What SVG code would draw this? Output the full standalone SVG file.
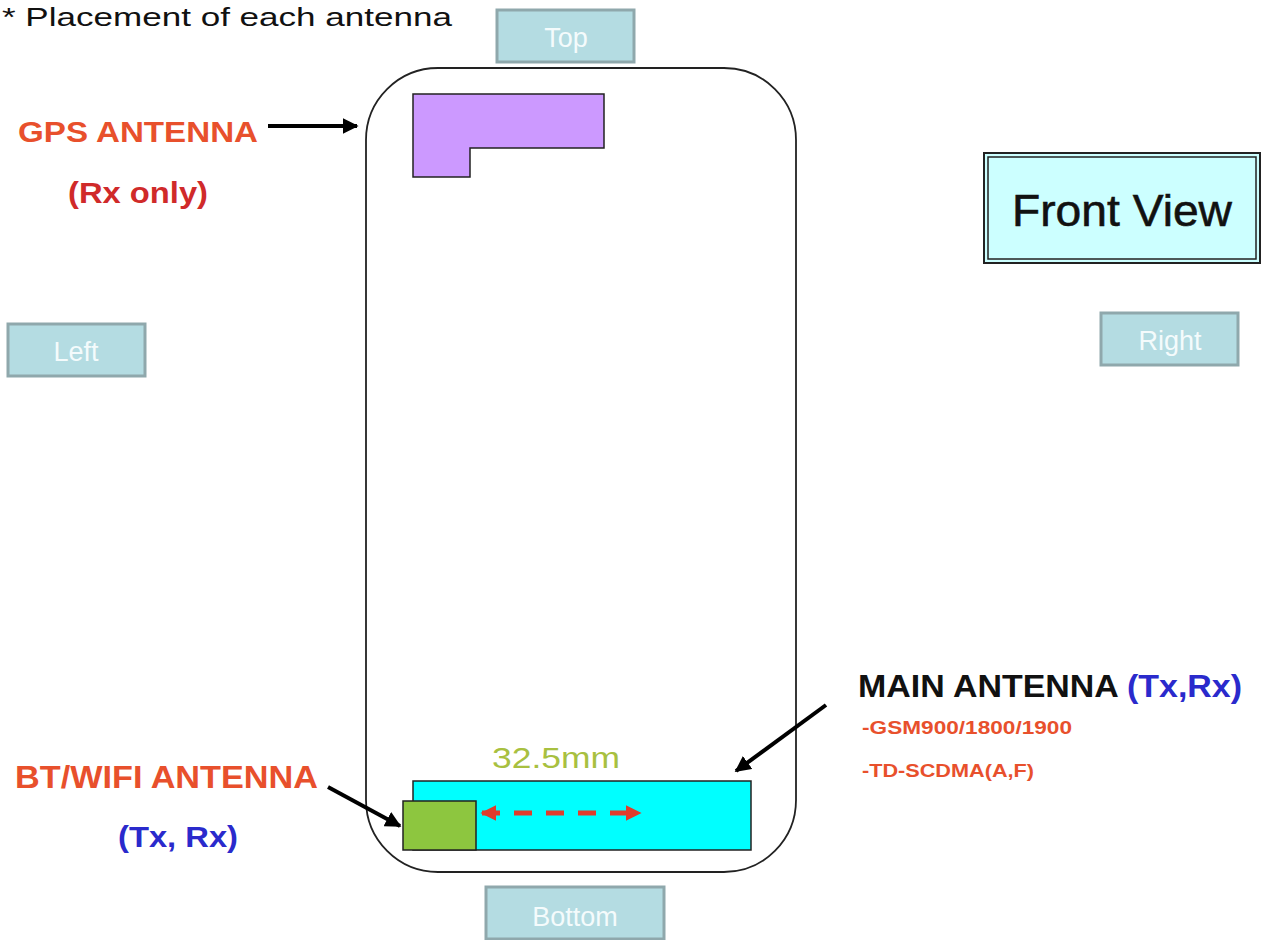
<svg xmlns="http://www.w3.org/2000/svg" width="1267" height="940" viewBox="0 0 1267 940">
  <defs>
    <marker id="blackHead" viewBox="0 0 10 10" refX="9" refY="5" markerWidth="4" markerHeight="4" orient="auto">
      <path d="M0,0 L10,5 L0,10 z" fill="#000"/>
    </marker>
    <marker id="redHead" viewBox="0 0 10 10" refX="9" refY="5" markerWidth="3.2" markerHeight="3.2" orient="auto-start-reverse">
      <path d="M0,0 L10,5 L0,10 z" fill="#E03C2C"/>
    </marker>
  </defs>
  <style>
    .side rect { fill: #B4DCE2; stroke: #8FA8AC; stroke-width: 3; }
    .side text { fill: #F4FBFC; font-family: "Liberation Sans", Arial, sans-serif; font-size: 27px; text-anchor: middle; }
    .lbl { font-family: "Liberation Sans", Arial, sans-serif; font-weight: bold; }
    .orange { fill: #E8502C; }
    .blue { fill: #2A2ACC; }
    .conn { stroke: #000; stroke-width: 4; fill: none; }
  </style>
  <rect width="1267" height="940" fill="#fff"/>

  <text x="2" y="26" font-family="Liberation Sans, Arial, sans-serif" font-size="26" fill="#111" textLength="450" lengthAdjust="spacingAndGlyphs">* Placement  of  each  antenna</text>

  <!-- orientation tabs -->
  <g id="top" class="side"><rect x="497" y="10" width="137" height="52"/><text x="566" y="47">Top</text></g>
  <g id="left" class="side"><rect x="8" y="324" width="137" height="52"/><text x="76" y="361">Left</text></g>
  <g id="right" class="side"><rect x="1101" y="313" width="137" height="52"/><text x="1170" y="350">Right</text></g>
  <g id="bottom" class="side"><rect x="486" y="887" width="178" height="52"/><text x="575" y="926">Bottom</text></g>

  <!-- view caption -->
  <g id="front-view">
    <rect x="984" y="153" width="276" height="110" fill="#CCFFFF" stroke="#222" stroke-width="2"/>
    <rect x="988" y="157" width="268" height="102" fill="none" stroke="#222" stroke-width="1.5"/>
    <text x="1122" y="226" font-family="Liberation Sans, Arial, sans-serif" font-size="45" text-anchor="middle" fill="#111" stroke="#111" stroke-width="0.6" textLength="220" lengthAdjust="spacingAndGlyphs">Front View</text>
  </g>

  <!-- handset outline -->
  <g id="phone">
    <rect x="366" y="68" width="430" height="804" rx="72" ry="72" fill="none" stroke="#222" stroke-width="1.8"/>
  </g>

  <!-- GPS antenna -->
  <g id="gps-antenna">
    <path d="M413,94 H604 V148 H470 V177 H413 Z" fill="#CC99FF" stroke="#222" stroke-width="1.5"/>
  </g>

  <!-- main antenna -->
  <g id="main-antenna">
    <rect x="413" y="781" width="338" height="69" fill="#00FFFF" stroke="#222" stroke-width="1.5"/>
  </g>

  <!-- BT / WiFi antenna -->
  <g id="bt-antenna">
    <rect x="403" y="801" width="73" height="49" fill="#8DC63F" stroke="#222" stroke-width="1.5"/>
  </g>

  <!-- dimension -->
  <g id="dimension">
    <text x="492" y="768" font-family="Liberation Sans, Arial, sans-serif" font-size="30" fill="#A8C040" textLength="128" lengthAdjust="spacingAndGlyphs">32.5mm</text>
  </g>

  <!-- labels -->
  <g id="gps-label" class="lbl">
    <text x="18" y="142" font-size="29" class="orange" textLength="240" lengthAdjust="spacingAndGlyphs">GPS ANTENNA</text>
    <text x="68" y="203" font-size="29" fill="#D02A2A" textLength="140" lengthAdjust="spacingAndGlyphs">(Rx only)</text>
  </g>
  <g id="main-label" class="lbl">
    <text x="858" y="697" font-size="32" fill="#111" textLength="384" lengthAdjust="spacingAndGlyphs">MAIN ANTENNA <tspan class="blue">(Tx,Rx)</tspan></text>
    <text x="862" y="734" font-size="19" class="orange" textLength="210" lengthAdjust="spacingAndGlyphs">-GSM900/1800/1900</text>
    <text x="862" y="777" font-size="19" class="orange" textLength="172" lengthAdjust="spacingAndGlyphs">-TD-SCDMA(A,F)</text>
  </g>
  <g id="bt-label" class="lbl">
    <text x="15" y="788" font-size="31" class="orange" textLength="303" lengthAdjust="spacingAndGlyphs">BT/WIFI ANTENNA</text>
    <text x="118" y="847" font-size="30" class="blue" textLength="120" lengthAdjust="spacingAndGlyphs">(Tx, Rx)</text>
  </g>

  <!-- connectors -->
  <g id="connectors">
    <line class="conn" x1="268" y1="126" x2="357" y2="126" marker-end="url(#blackHead)"/>
    <line class="conn" x1="826" y1="705" x2="736" y2="771" marker-end="url(#blackHead)"/>
    <line class="conn" x1="328" y1="787" x2="400" y2="826" marker-end="url(#blackHead)"/>
    <line x1="482" y1="813" x2="640" y2="813" stroke="#E03C2C" stroke-width="5" stroke-dasharray="18,14" marker-start="url(#redHead)" marker-end="url(#redHead)"/>
  </g>
</svg>
